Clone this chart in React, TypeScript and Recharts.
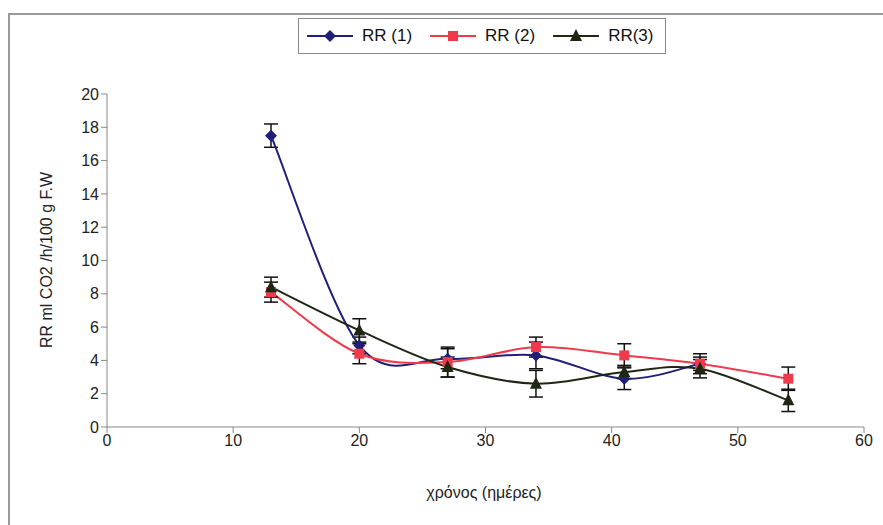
import React from 'react'
import { LineChart, Line, XAxis, YAxis, ErrorBar } from 'recharts'

const days = [13, 20, 27, 34, 41, 47, 54]
const rr1 = [17.5, 4.9, 4.1, 4.3, 2.9, 3.8, null]
const rr2 = [8.1, 4.4, 3.9, 4.8, 4.3, 3.8, 2.9]
const rr3 = [8.4, 5.8, 3.6, 2.6, 3.3, 3.5, 1.6]
const rr1Err = [0.7, 0.5, 0.6, 0.8, 0.65, 0.4, null]
const rr2Err = [0.6, 0.6, 0.9, 0.6, 0.7, 0.6, 0.7]
const rr3Err = [0.6, 0.7, 0.6, 0.8, 0.4, 0.55, 0.67]
const xTicks = [0, 10, 20, 30, 40, 50, 60]
const yTicks = [0, 2, 4, 6, 8, 10, 12, 14, 16, 18, 20]

const data = days.map((d, i) => ({
  day: d,
  rr1: rr1[i],
  rr2: rr2[i],
  rr3: rr3[i],
  e1: rr1Err[i],
  e2: rr2Err[i],
  e3: rr3Err[i],
}))

const BLUE = '#1f1f78'
const RED = '#ee3a4a'
const DARK = '#1e2614'
const FONT = '"Liberation Sans", Arial, sans-serif'

// smoothed curve, similar to Excel's smoothed line
const smooth: any = (context: any) => {
  let pts: number[][] = []
  return {
    areaStart() {},
    areaEnd() {},
    lineStart() { pts = [] },
    point(x: number, y: number) { pts.push([+x, +y]) },
    lineEnd() {
      if (!pts.length) return
      context.moveTo(pts[0][0], pts[0][1])
      for (let i = 0; i < pts.length - 1; i++) {
        const p0 = pts[i - 1] || pts[i]
        const p1 = pts[i]
        const p2 = pts[i + 1]
        const p3 = pts[i + 2] || p2
        const c1x = p1[0] + (p2[0] - p0[0]) / 6
        const c1y = p1[1] + (p2[1] - p0[1]) / 6
        const c2x = p2[0] - (p3[0] - p1[0]) / 6
        const c2y = p2[1] - (p3[1] - p1[1]) / 6
        context.bezierCurveTo(c1x, c1y, c2x, c2y, p2[0], p2[1])
      }
    },
  }
}

const Diamond = (p: any) => {
  if (p.cx == null || p.cy == null || p.value == null) return <g key={p.key} />
  const s = 6
  return <path key={p.key} d={`M${p.cx},${p.cy - s}L${p.cx + s},${p.cy}L${p.cx},${p.cy + s}L${p.cx - s},${p.cy}Z`} fill={BLUE} />
}
const Square = (p: any) => {
  if (p.cx == null || p.cy == null || p.value == null) return <g key={p.key} />
  return <rect key={p.key} x={p.cx - 5} y={p.cy - 5} width={10} height={10} fill={RED} />
}
const Tri = (p: any) => {
  if (p.cx == null || p.cy == null || p.value == null) return <g key={p.key} />
  return <path key={p.key} d={`M${p.cx},${p.cy - 7}L${p.cx + 6},${p.cy + 5}L${p.cx - 6},${p.cy + 5}Z`} fill={DARK} />
}

const legendItems = [
  { name: 'RR (1)', color: BLUE, shape: 'diamond' },
  { name: 'RR (2)', color: RED, shape: 'square' },
  { name: 'RR(3)', color: DARK, shape: 'tri' },
]

const LegendBox = () => (
  <div style={{ position: 'absolute', left: 298, top: 18, display: 'flex', alignItems: 'center', border: '1px solid #888', background: '#fff', padding: '7px 12px 7px 8px', fontFamily: FONT, fontSize: 17, color: '#111', gap: 18 }}>
    {legendItems.map((it) => (
      <div key={it.name} style={{ display: 'flex', alignItems: 'center', gap: 9 }}>
        <svg width={46} height={14}>
          <line x1={0} y1={7} x2={46} y2={7} stroke={it.color} strokeWidth={2} />
          {it.shape === 'diamond' && <path d="M23,1L29,7L23,13L17,7Z" fill={it.color} />}
          {it.shape === 'square' && <rect x={18} y={2} width={10} height={10} fill={it.color} />}
          {it.shape === 'tri' && <path d="M23,0L29,12L17,12Z" fill={it.color} />}
        </svg>
        <span>{it.name}</span>
      </div>
    ))}
  </div>
)

export default function App() {
  return (
    <div style={{ position: 'absolute', left: 0, top: 0, width: 883, height: 525, background: '#fff', overflow: 'hidden' }}>
      <div style={{ position: 'absolute', left: 8, top: 13, width: 900, height: 540, borderTop: '2px solid #999', borderLeft: '2px solid #999' }} />
      <LineChart width={883} height={525} data={data} margin={{ top: 94, right: 19, bottom: 68, left: 47 }}>
        <XAxis
          dataKey="day"
          type="number"
          domain={[0, 60]}
          ticks={xTicks}
          tick={{ fill: '#222', fontSize: 16, fontFamily: FONT }}
          axisLine={{ stroke: '#888' }}
          tickLine={{ stroke: '#888' }}
          tickSize={6}
          height={30}
        />
        <YAxis
          type="number"
          domain={[0, 20]}
          ticks={yTicks}
          tick={{ fill: '#222', fontSize: 16, fontFamily: FONT }}
          axisLine={{ stroke: '#888' }}
          tickLine={{ stroke: '#888' }}
          tickSize={6}
          width={60}
          interval={0}
        />
        <Line dataKey="rr1" name="RR (1)" type={smooth} stroke={BLUE} strokeWidth={2} dot={Diamond} activeDot={false} isAnimationActive={false}>
          <ErrorBar dataKey="e1" width={7} stroke="#111" strokeWidth={1.5} />
        </Line>
        <Line dataKey="rr2" name="RR (2)" type={smooth} stroke={RED} strokeWidth={2} dot={Square} activeDot={false} isAnimationActive={false}>
          <ErrorBar dataKey="e2" width={7} stroke="#111" strokeWidth={1.5} />
        </Line>
        <Line dataKey="rr3" name="RR(3)" type={smooth} stroke={DARK} strokeWidth={2} dot={Tri} activeDot={false} isAnimationActive={false}>
          <ErrorBar dataKey="e3" width={7} stroke="#111" strokeWidth={1.5} />
        </Line>
      </LineChart>
      <LegendBox />
      <div style={{ position: 'absolute', left: 47, top: 260, transform: 'translate(-50%, -50%) rotate(-90deg)', whiteSpace: 'nowrap', fontFamily: FONT, fontSize: 16, color: '#222' }}>
        RR ml CO2 /h/100 g F.W
      </div>
      <div style={{ position: 'absolute', left: 484, top: 493, transform: 'translate(-50%, -50%)', whiteSpace: 'nowrap', fontFamily: FONT, fontSize: 16, color: '#222' }}>
        χρόνος (ημέρες)
      </div>
    </div>
  )
}
